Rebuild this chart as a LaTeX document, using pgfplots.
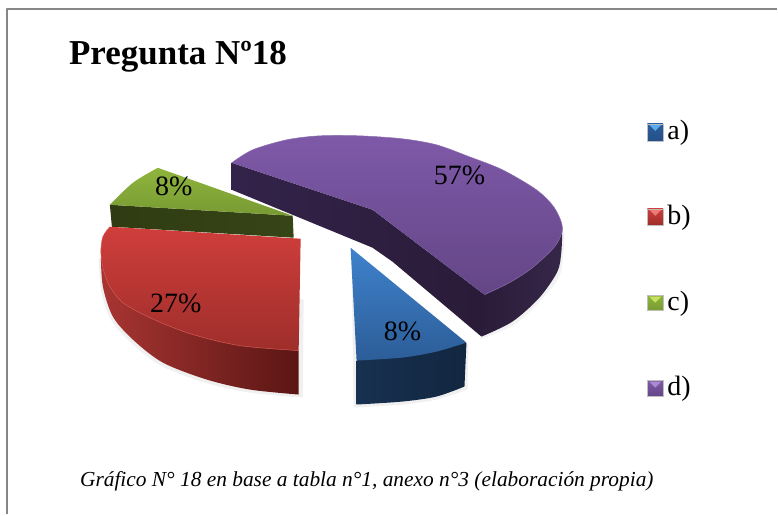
\documentclass[border=0pt]{standalone}
\usepackage{fontspec}
\setmainfont{Liberation Serif}
\usepackage{pgfplots}
\pgfplotsset{compat=1.18}
\definecolor{frameg}{HTML}{868686}
\definecolor{HTMLp1}{HTML}{33234A}
\definecolor{HTMLp2}{HTML}{2A1B38}
\definecolor{HTMLp3}{HTML}{362749}
\definecolor{HTMLp4}{HTML}{7E59A8}
\definecolor{HTMLp5}{HTML}{644686}
\definecolor{HTMLp6}{HTML}{8A6CB0}
\definecolor{HTMLp7}{HTML}{A98BD0}
\definecolor{HTMLg1}{HTML}{2F3C13}
\definecolor{HTMLg2}{HTML}{364516}
\definecolor{HTMLg3}{HTML}{8FB53D}
\definecolor{HTMLg4}{HTML}{789A33}
\definecolor{HTMLg6}{HTML}{C8E060}
\definecolor{HTMLr1}{HTML}{A83532}
\definecolor{HTMLr2}{HTML}{5A1614}
\definecolor{HTMLr3}{HTML}{CF3E3B}
\definecolor{HTMLr4}{HTML}{9E2E2B}
\definecolor{HTMLr5}{HTML}{D55A55}
\definecolor{HTMLr6}{HTML}{EE7A75}
\definecolor{HTMLb1}{HTML}{173150}
\definecolor{HTMLb2}{HTML}{12263F}
\definecolor{HTMLb3}{HTML}{3F82CC}
\definecolor{HTMLb4}{HTML}{2C5D98}
\definecolor{HTMLb5}{HTML}{24508A}
\definecolor{HTMLb6}{HTML}{5AAAEE}
\begin{document}
\begin{tikzpicture}
\begin{axis}[
  scale only axis, width=778pt, height=515pt,
  xmin=0, xmax=778, ymin=0, ymax=515, y dir=reverse,
  hide axis, clip=false,
  every axis plot/.append style={no markers, line join=round},
]
% page extent
\addplot[draw=none, fill=white] coordinates {(0,0) (778,0) (778,515) (0,515)} -- cycle;
% frame
\addplot[frameg, line width=1.8pt] coordinates {(7,515) (7,9) (778,9)};

% soft shadows
\addplot[smooth, draw=none, fill=black!6] coordinates {(99,258) (101,290) (111,320) (131,343) (161,366) (205,383) (250,393) (303,398)} -- (axis cs:304,300) -- cycle;
\addplot[smooth, draw=none, fill=black!6] coordinates {(354,408) (403,405) (437,400) (468,390)} -- (axis cs:469,345) -- (axis cs:352,262) -- cycle;
\addplot[smooth, draw=none, fill=black!5] coordinates {(480,340) (515,325) (542,300) (561,274) (565,232)} -- cycle;

% d) purple sides (outer first, inner over it)
\addplot[smooth, draw=none, left color=HTMLp2, right color=HTMLp3] coordinates {
 (482,337) (513,322) (540,298) (558,272) (562,252) (563,228)} -- (axis cs:478,300) -- cycle;
\addplot[draw=none, left color=HTMLp1, right color=HTMLp2] coordinates {
 (232,163) (373,210) (485,295) (482,337) (393,262) (373,248) (232,190)} -- cycle;
% d) purple top
\addplot[smooth, draw=none, top color=HTMLp4, bottom color=HTMLp5] coordinates {
 (232,163) (253,150) (287,140) (320,136) (360,136) (403,139) (437,145) (470,157) (503,170) (537,190) (555,208) (563,228) (556,246) (533,268) (510,283) (485,295)} -- (axis cs:373,210) -- cycle;
\addplot[smooth, draw=HTMLp6, line width=0.5pt] coordinates {
 (232,163) (253,150) (287,140) (320,136) (360,136) (403,139) (437,145) (470,157) (503,170) (537,190) (555,208) (563,228) (556,246) (533,268) (510,283) (485,295)};

% c) green
\addplot[draw=none, left color=HTMLg1, right color=HTMLg2] coordinates {
 (110,205) (293,216) (294,238) (112,227)} -- cycle;
\addplot[smooth, draw=none, top color=HTMLg3, bottom color=HTMLg4] coordinates {
 (158,168) (133,183) (110,205)} -- (axis cs:293,216) -- cycle;

% b) red side
\addplot[smooth, draw=none, left color=HTMLr1, right color=HTMLr2] coordinates {
 (101,258) (103,287) (113,317) (133,340) (163,363) (207,380) (250,390) (299,395)} -- (axis cs:299,351) -- (axis cs:200,300) -- cycle;
% b) red top
\addplot[smooth, draw=none, top color=HTMLr3, bottom color=HTMLr4] coordinates {
 (299,351) (240,346) (190,334) (150,318) (123,303) (110,287) (104,272) (101,253) (103,237) (110,227)} -- (axis cs:301,239) -- cycle;
\addplot[smooth, draw=HTMLr5, line width=0.5pt] coordinates {
 (299,351) (240,346) (190,334) (150,318) (123,303) (110,287) (104,272) (101,253) (103,237) (110,227)};

% a) blue
\addplot[smooth, draw=none, left color=HTMLb1, right color=HTMLb2] coordinates {
 (357,405) (403,402) (437,397) (465,387)} -- (axis cs:467,343) -- (axis cs:400,340) -- (axis cs:357,361) -- cycle;
\addplot[smooth, draw=none, top color=HTMLb3, bottom color=HTMLb4] coordinates {
 (467,343) (437,352) (403,358) (357,361)} -- (axis cs:351,248) -- cycle;

% legend keys
\addplot[draw=black!25, line width=0.4pt, top color=HTMLb4, bottom color=HTMLb5] coordinates {(648,124) (664,124) (664,141) (648,141)} -- cycle;
\addplot[draw=none, fill=HTMLb6] coordinates {(650,125) (662,125) (656,131)} -- cycle;
\addplot[draw=black!25, line width=0.4pt, top color=HTMLr3, bottom color=HTMLr4] coordinates {(648,209) (664,209) (664,225) (648,225)} -- cycle;
\addplot[draw=none, fill=HTMLr6] coordinates {(650,210) (662,210) (656,216)} -- cycle;
\addplot[draw=black!25, line width=0.4pt, top color=HTMLg3, bottom color=HTMLg4] coordinates {(648,296) (664,296) (664,311) (648,311)} -- cycle;
\addplot[draw=none, fill=HTMLg6] coordinates {(650,297) (662,297) (656,303)} -- cycle;
\addplot[draw=black!25, line width=0.4pt, top color=HTMLp4, bottom color=HTMLp5] coordinates {(648,381) (664,381) (664,397) (648,397)} -- cycle;
\addplot[draw=none, fill=HTMLp7] coordinates {(650,382) (662,382) (656,388)} -- cycle;

% texts
\node[anchor=base west, inner sep=0pt, font=\fontsize{35}{38}\selectfont\bfseries] at (axis cs:69,65) {Pregunta Nº18};
\node[anchor=base, inner sep=0pt, font=\fontsize{28}{30}\selectfont] at (axis cs:460,185) {57\%};
\node[anchor=base, inner sep=0pt, font=\fontsize{28}{30}\selectfont] at (axis cs:174,196) {8\%};
\node[anchor=base, inner sep=0pt, font=\fontsize{28}{30}\selectfont] at (axis cs:176,313) {27\%};
\node[anchor=base, inner sep=0pt, font=\fontsize{28}{30}\selectfont] at (axis cs:403,341) {8\%};
\node[anchor=base west, inner sep=0pt, font=\fontsize{28}{30}\selectfont] at (axis cs:668,140) {a)};
\node[anchor=base west, inner sep=0pt, font=\fontsize{28}{30}\selectfont] at (axis cs:668,225) {b)};
\node[anchor=base west, inner sep=0pt, font=\fontsize{28}{30}\selectfont] at (axis cs:668,311) {c)};
\node[anchor=base west, inner sep=0pt, font=\fontsize{28}{30}\selectfont] at (axis cs:668,396) {d)};
\node[anchor=base west, inner sep=0pt, font=\fontsize{21.4}{24}\selectfont\itshape] at (axis cs:80,487) {Gráfico N° 18 en base a tabla n°1, anexo n°3 (elaboración propia)};
\end{axis}
\end{tikzpicture}
\end{document}
